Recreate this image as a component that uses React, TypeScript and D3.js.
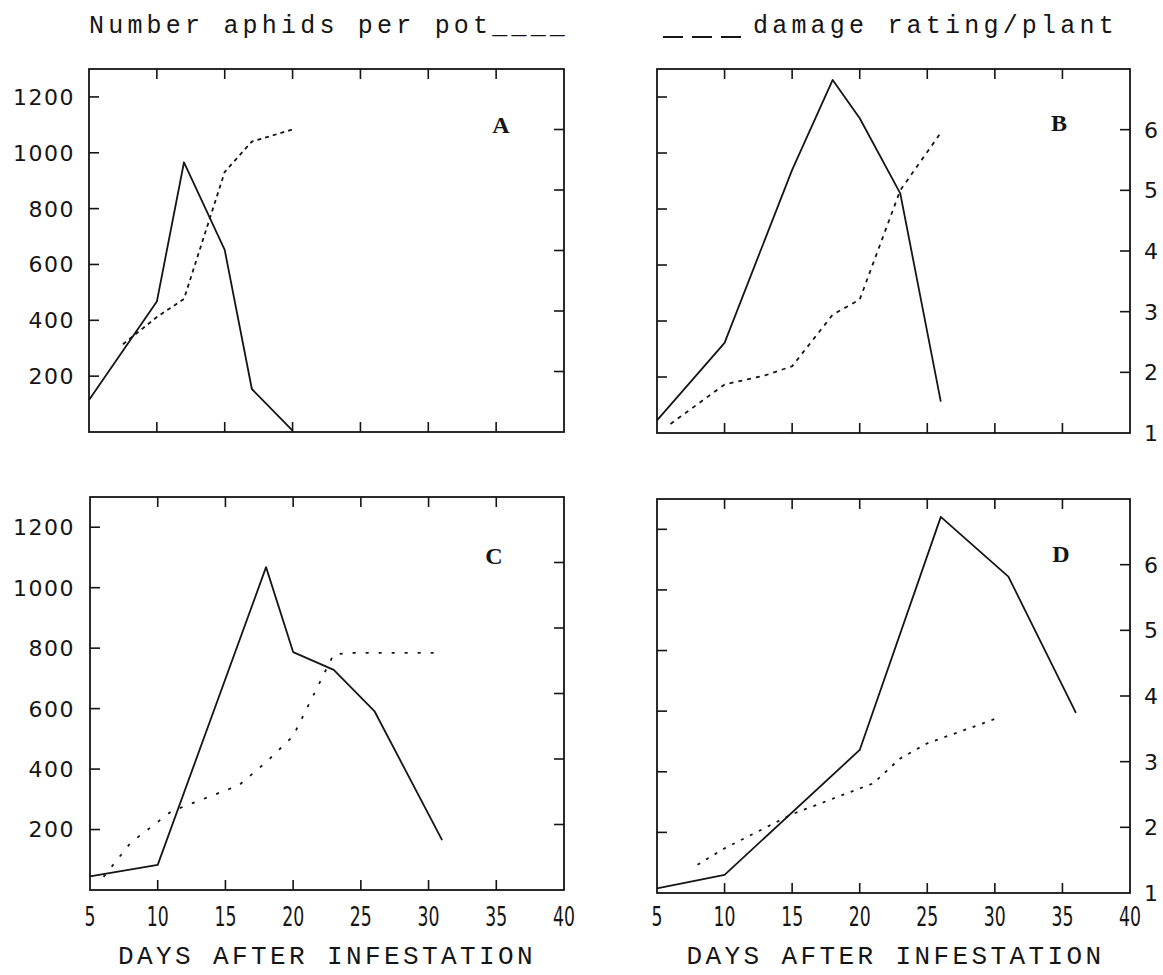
import React from "react";
import * as d3 from "d3";

// values (days after infestation)
const xTickDays = [10, 15, 20, 25, 30, 35];
const xLabelDays = [5, 10, 15, 20, 25, 30, 35, 40];
const aphidTicks = [200, 400, 600, 800, 1000, 1200];
const damageTicks = [2, 3, 4, 5, 6];
const damageLabels = [1, 2, 3, 4, 5, 6];

const aphidDaysA = [5, 10, 12, 15, 17, 20];
const aphidsA = [115, 467, 966, 652, 154, 5];
const damageDaysA = [7.5, 10, 12, 15, 17, 20];
const damageA = [2.45, 2.9, 3.2, 5.3, 5.8, 6.0];

const aphidDaysB = [5, 10, 15, 18, 20, 23, 26];
const aphidsB = [45, 322, 940, 1261, 1124, 856, 112];
const damageDaysB = [6, 10, 13, 15, 18, 20, 23, 26];
const damageB = [1.15, 1.8, 1.95, 2.1, 2.95, 3.2, 5.0, 5.95];

const aphidDaysC = [5, 10, 18, 20, 23, 26, 31];
const aphidsC = [45, 83, 1068, 787, 728, 592, 165];
const damageDaysC = [6, 8, 11, 16, 18, 20, 23, 24.5, 31];
const damageC = [1.2, 1.72, 2.2, 2.6, 2.95, 3.35, 4.6, 4.62, 4.62];

const aphidDaysD = [5, 10, 20, 26, 31, 36];
const aphidsD = [15, 60, 472, 1241, 1044, 594];
const damageDaysD = [8, 10, 15, 21, 23, 25, 28, 30];
const damageD = [1.43, 1.68, 2.2, 2.67, 3.05, 3.28, 3.5, 3.65];

const zip = (a, b) => a.map((d, i) => [d, b[i]]);

const panels = [
  { id: "A", left: 89, right: 564, top: 69, bottom: 432, leftLabels: true, rightLabels: false, xLabels: false,
    aphid: zip(aphidDaysA, aphidsA), damage: zip(damageDaysA, damageA), dash: "4,4", letterX: 501, letterY: 133 },
  { id: "B", left: 657, right: 1130, top: 69, bottom: 433, leftLabels: false, rightLabels: true, xLabels: false,
    aphid: zip(aphidDaysB, aphidsB), damage: zip(damageDaysB, damageB), dash: "4,5", letterX: 1059, letterY: 131 },
  { id: "C", left: 90, right: 564, top: 497, bottom: 890, leftLabels: true, rightLabels: false, xLabels: true,
    aphid: zip(aphidDaysC, aphidsC), damage: zip(damageDaysC, damageC), dash: "3,10", letterX: 494, letterY: 564 },
  { id: "D", left: 657, right: 1130, top: 499, bottom: 893, leftLabels: false, rightLabels: true, xLabels: true,
    aphid: zip(aphidDaysD, aphidsD), damage: zip(damageDaysD, damageD), dash: "3,7", letterX: 1061, letterY: 562 },
];

const ink = "#151515";
const tick = 10;

function Panel({ p }) {
  const x = d3.scaleLinear().domain([5, 40]).range([p.left, p.right]);
  const yA = d3.scaleLinear().domain([0, 1300]).range([p.bottom, p.top]);
  const yD = d3.scaleLinear().domain([1, 7]).range([p.bottom, p.top]);
  const aphidLine = d3.line().x((d) => x(d[0])).y((d) => yA(d[1]));
  const damageLine = d3.line().x((d) => x(d[0])).y((d) => yD(d[1]));

  return (
    <g>
      <rect x={p.left} y={p.top} width={p.right - p.left} height={p.bottom - p.top}
        fill="none" stroke={ink} strokeWidth={1.8} />
      {xTickDays.map((d) => (
        <g key={"x" + d}>
          <line x1={x(d)} x2={x(d)} y1={p.top} y2={p.top + tick} stroke={ink} strokeWidth={1.6} />
          <line x1={x(d)} x2={x(d)} y1={p.bottom} y2={p.bottom - tick} stroke={ink} strokeWidth={1.6} />
        </g>
      ))}
      {aphidTicks.map((v) => (
        <line key={"a" + v} x1={p.left} x2={p.left + tick} y1={yA(v)} y2={yA(v)} stroke={ink} strokeWidth={1.6} />
      ))}
      {damageTicks.map((v) => (
        <line key={"d" + v} x1={p.right} x2={p.right - tick} y1={yD(v)} y2={yD(v)} stroke={ink} strokeWidth={1.6} />
      ))}
      {p.leftLabels && aphidTicks.map((v) => (
        <text key={"al" + v} x={75} y={yA(v)} dy="0.36em" textAnchor="end"
          fontFamily="DejaVu Sans" fontSize={22} letterSpacing={1.5} fill={ink}>{v}</text>
      ))}
      {p.rightLabels && damageLabels.map((v) => (
        <text key={"dl" + v} x={p.right + 14} y={yD(v)} dy="0.36em" textAnchor="start"
          fontFamily="DejaVu Sans" fontSize={22} fill={ink}>{v}</text>
      ))}
      {p.xLabels && xLabelDays.map((d) => (
        <text key={"xl" + d} transform={`translate(${x(d)},926) scale(0.64,1)`} textAnchor="middle"
          fontFamily="DejaVu Sans" fontSize={27} fill={ink}>{d}</text>
      ))}
      {p.xLabels && (
        <text x={(p.left + p.right) / 2 + (p.id === "C" ? 0 : 2)} y={964} textAnchor="middle"
          fontFamily="Liberation Mono" fontSize={26} letterSpacing={3.4} fill={ink}>DAYS AFTER INFESTATION</text>
      )}
      <path d={aphidLine(p.aphid)} fill="none" stroke={ink} strokeWidth={1.8} strokeLinejoin="round" />
      <path d={damageLine(p.damage)} fill="none" stroke={ink} strokeWidth={1.8} strokeDasharray={p.dash} />
      <text x={p.letterX} y={p.letterY} textAnchor="middle" fontFamily="Liberation Serif"
        fontWeight="bold" fontSize={24} fill={ink}>{p.id}</text>
    </g>
  );
}

export default function App() {
  return (
    <svg width={1163} height={975} style={{ position: "absolute", left: 0, top: 0, background: "#fff" }}>
      <text x={89} y={33} fontFamily="Liberation Mono" fontSize={25} letterSpacing={4.2} fill={ink}>
        Number aphids per pot____
      </text>
      <line x1={663} x2={741} y1={37} y2={37} stroke={ink} strokeWidth={2} strokeDasharray="20,9" />
      <text x={753} y={33} fontFamily="Liberation Mono" fontSize={25} letterSpacing={4.2} fill={ink}>
        damage rating/plant
      </text>
      {panels.map((p) => (
        <Panel key={p.id} p={p} />
      ))}
    </svg>
  );
}
